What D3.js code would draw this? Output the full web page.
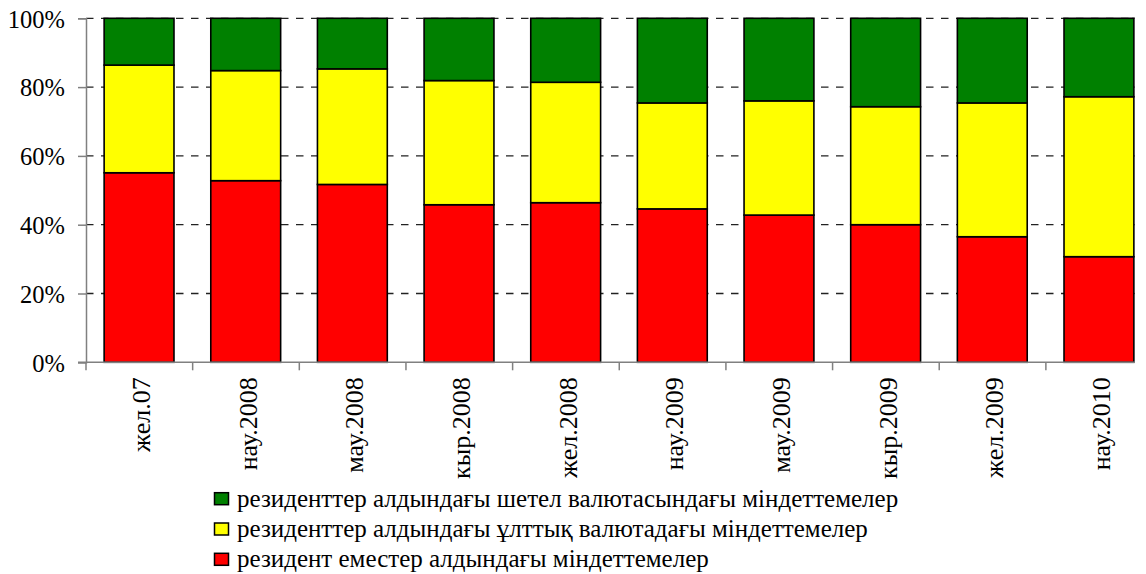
<!DOCTYPE html>
<html><head><meta charset="utf-8"><script src="https://cdn.jsdelivr.net/npm/d3@7"></script></head>
<body style="margin:0">
<svg id="s" width="1146" height="574" font-family="Liberation Serif" style="display:block"></svg>
<script>
// Periods (Kazakh month abbreviations)
const categories = ["жел.07", "нау.2008", "мау.2008", "кыр.2008", "жел.2008",
                    "нау.2009", "мау.2009", "кыр.2009", "жел.2009", "нау.2010"];

// Shares of each liability type, percent of total
const nonResidents  = [55.1, 52.8, 51.7, 45.8, 46.4, 44.6, 42.8, 40.0, 36.5, 30.7];
const residentsKzt  = [31.3, 32.0, 33.6, 36.1, 35.0, 30.8, 33.2, 34.3, 38.9, 46.5];
const residentsFx   = [13.6, 15.2, 14.7, 18.1, 18.6, 24.6, 24.0, 25.7, 24.6, 22.8];

const seriesNames = [
  "резидент еместер алдындағы міндеттемелер",
  "резиденттер алдындағы ұлттық валютадағы міндеттемелер",
  "резиденттер алдындағы шетел валютасындағы міндеттемелер"
];
const seriesColors = ["#ff0000", "#ffff00", "#008000"];
const yTicks = [0, 20, 40, 60, 80, 100];

(function draw() {
  const rows = categories.map((c, i) => ({
    cat: c, s0: nonResidents[i], s1: residentsKzt[i], s2: residentsFx[i]
  }));
  const stack = d3.stack().keys(["s0", "s1", "s2"]).offset(d3.stackOffsetExpand);
  const layers = stack(rows);

  const svg = d3.select("#s");
  const mLeft = 86, mTop = 18.3, mBottom = 362.3, plotRight = 1135;
  const x = d3.scaleBand().domain(categories).range([mLeft, 1152]).paddingInner(0.345).paddingOuter(0.17);
  const y = d3.scaleLinear().domain([0, 1]).range([mBottom, mTop]);

  svg.append("clipPath").attr("id", "plotclip")
    .append("rect").attr("x", 0).attr("y", 0).attr("width", plotRight + 1).attr("height", 574);

  // dashed gridlines
  svg.append("g").selectAll("line").data(yTicks.filter(t => t > 0)).join("line")
    .attr("x1", mLeft).attr("x2", plotRight)
    .attr("y1", d => y(d / 100)).attr("y2", d => y(d / 100))
    .attr("stroke", "#222").attr("stroke-width", 1.3).attr("stroke-dasharray", "7.5,7.5");

  // right-side tick stubs
  svg.append("g").selectAll("line").data(yTicks.filter(t => t > 0)).join("line")
    .attr("x1", plotRight - 3).attr("x2", plotRight)
    .attr("y1", d => y(d / 100)).attr("y2", d => y(d / 100))
    .attr("stroke", "#808080").attr("stroke-width", 1.3);

  // stacked bars
  const g = svg.append("g").attr("clip-path", "url(#plotclip)");
  layers.forEach((layer, k) => {
    g.append("g").selectAll("rect").data(layer).join("rect")
      .attr("x", d => x(d.data.cat))
      .attr("width", x.bandwidth())
      .attr("y", d => y(d[1]))
      .attr("height", d => y(d[0]) - y(d[1]))
      .attr("fill", seriesColors[k])
      .attr("stroke", "#000").attr("stroke-width", 1.6);
  });

  // y axis with percent labels
  const yAxis = svg.append("g").attr("transform", `translate(${mLeft},0)`)
    .call(d3.axisLeft(y).tickValues(yTicks.map(t => t / 100)).tickSize(8).tickPadding(13)
      .tickFormat((d, i) => yTicks[i] + "%"));
  yAxis.attr("font-family", "Liberation Serif").attr("font-size", 24.5);
  yAxis.select(".domain").attr("stroke", "#808080").attr("stroke-width", 1.5);
  yAxis.selectAll(".tick line").attr("stroke", "#808080").attr("stroke-width", 1.5);
  yAxis.selectAll(".tick text").attr("fill", "#000").attr("dy", "0.36em");

  // x axis line with category boundary ticks
  svg.append("line").attr("x1", mLeft - 8).attr("x2", plotRight)
    .attr("y1", mBottom).attr("y2", mBottom).attr("stroke", "#808080").attr("stroke-width", 1.5);
  const step = x.step();
  const bounds = d3.range(categories.length).map(i => mLeft + i * step).filter(v => v <= plotRight);
  svg.append("g").selectAll("line").data(bounds).join("line")
    .attr("x1", d => d).attr("x2", d => d).attr("y1", mBottom).attr("y2", mBottom + 8)
    .attr("stroke", "#808080").attr("stroke-width", 1.5);

  // rotated category labels
  svg.append("g").attr("font-size", 26).selectAll("text").data(categories).join("text")
    .attr("transform", d => `translate(${x(d) + x.bandwidth() / 2 + 11},${mBottom + 15}) rotate(-90)`)
    .attr("text-anchor", "end")
    .text(d => d);

  // legend (top entry is the top layer)
  const legendOrder = [2, 1, 0];
  const lg = svg.append("g").attr("font-size", 25);
  legendOrder.forEach((k, i) => {
    const base = 506.7 + i * 30.3;
    lg.append("rect").attr("x", 214.5).attr("y", base - 14).attr("width", 14).attr("height", 12)
      .attr("fill", seriesColors[k]).attr("stroke", "#000").attr("stroke-width", 1.5);
    lg.append("text").attr("x", 237).attr("y", base).text(seriesNames[k]);
  });
})();
</script>
</body>
</html>
